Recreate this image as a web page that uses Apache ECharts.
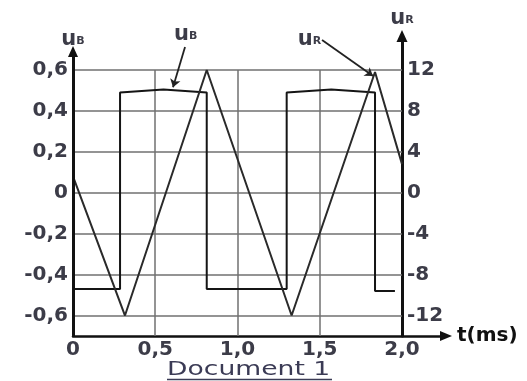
<!DOCTYPE html>
<html><head><meta charset="utf-8">
<script src="https://cdn.jsdelivr.net/npm/echarts@6/dist/echarts.min.js"></script>
<style>html,body{margin:0;padding:0;background:#fff}#c{width:527px;height:381px}</style>
</head><body><div id="c"></div>
<script>
// tick values
const timeTicks = [0, 0.5, 1.0, 1.5, 2.0];
const uBTicks = [-0.6, -0.4, -0.2, 0, 0.2, 0.4, 0.6];
const uRTicks = [-12, -8, -4, 0, 4, 8, 12];
// triangle wave u_R (right axis, V)
const uR_t = [0, 0.316, 0.813, 1.329, 1.836, 2.0];
const uR_v = [1.6, -12, 12, -12, 11.8, 2.8];
// square wave u_B (left axis, V)
const uB_t = [0, 0.286, 0.286, 0.55, 0.813, 0.813, 1.299, 1.299, 1.57, 1.836, 1.836, 1.957];
const uB_v = [-0.47, -0.47, 0.49, 0.505, 0.49, -0.47, -0.47, 0.49, 0.505, 0.49, -0.48, -0.48];
// axis ranges
const tMin = 0, tMax = 2.2675;
const bMin = -0.7, bMax = 0.766;
const rMin = -14, rMax = 15.32;

const FONT = 'DejaVu Sans';
const TXT = '#3c3c48';
const fmtDec = v => v === 0 ? '0' : v.toFixed(1).replace('.', ',');
const near = (arr, v) => arr.find(a => Math.abs(a - v) < 1e-6);

const subRich = {
  u: {fontSize: 21, fontWeight: 'bold', fontFamily: FONT, color: TXT, verticalAlign: 'bottom'},
  s: {fontSize: 11, fontWeight: 'bold', fontFamily: FONT, color: TXT, verticalAlign: 'bottom', padding: [0, 0, 3, 0]}
};

const uBData = uB_t.map((t, i) => [t, uB_v[i]]);
const uRData = uR_t.map((t, i) => [t, uR_v[i]]);

const hGrid = uBTicks.map(v => [{coord: [timeTicks[0], v]}, {coord: [timeTicks[4], v]}]);
const vGrid = timeTicks.slice(1, 4).map(t => [{coord: [t, bMin]}, {coord: [t, uBTicks[6]]}]);

const chart = echarts.init(document.getElementById('c'), null, {renderer: 'canvas'});
chart.setOption({
  animation: false,
  backgroundColor: '#fff',
  grid: {left: 73, right: 81, top: 36, bottom: 45, containLabel: false},
  xAxis: {
    type: 'value', min: tMin, max: tMax, interval: 0.5,
    axisLine: {show: true, onZero: false, symbol: ['none', 'triangle'], symbolSize: [10, 12], lineStyle: {color: '#111', width: 2.5}},
    axisTick: {show: false}, splitLine: {show: false},
    axisLabel: {margin: 4, fontSize: 20, fontWeight: 'bold', fontFamily: FONT, color: TXT,
      formatter: v => { const t = near(timeTicks, v); return t === undefined ? '' : fmtDec(t); }},
    name: 't(ms)', nameLocation: 'end', nameGap: 11,
    nameTextStyle: {fontSize: 20, fontWeight: 'bold', fontFamily: FONT, color: '#111', padding: [0, 0, 5, 0]}
  },
  yAxis: [
    {
      type: 'value', min: bMin, max: bMax, interval: 0.1, position: 'left',
      axisLine: {show: false}, axisTick: {show: false}, splitLine: {show: false},
      axisLabel: {margin: 5, fontSize: 20, fontWeight: 'bold', fontFamily: FONT, color: TXT,
        formatter: v => { const t = near(uBTicks, Math.round(v * 10) / 10); return (t === undefined || Math.abs(v - t) > 1e-6) ? '' : fmtDec(t); }}
    },
    {
      type: 'value', min: rMin, max: rMax, interval: 2, position: 'right', offset: -44,
      axisLine: {show: true, onZero: false, symbol: ['none', 'triangle'], symbolSize: [11, 12], lineStyle: {color: '#111', width: 3}},
      axisTick: {show: false}, splitLine: {show: false},
      axisLabel: {margin: 5, fontSize: 20, fontWeight: 'bold', fontFamily: FONT, color: TXT,
        formatter: v => { const t = near(uRTicks, Math.round(v)); return (t === undefined || Math.abs(v - t) > 1e-6) ? '' : String(t); }},
      name: '{u|u}{s|R}', nameLocation: 'end', nameGap: 7,
      nameTextStyle: {rich: subRich}
    }
  ],
  series: [
    {
      name: 'grid', type: 'line', yAxisIndex: 0, data: [[0, bMin]], symbol: 'none', silent: true,
      lineStyle: {opacity: 0}, z: 1,
      markLine: {
        silent: true, symbol: 'none', z: 1, animation: false,
        label: {show: false},
        lineStyle: {color: '#707070', width: 1.5, type: 'solid'},
        data: hGrid.concat(vGrid)
      }
    },
    {
      name: 'axisB', type: 'line', yAxisIndex: 0, data: [[0, bMin]], symbol: 'none', silent: true,
      lineStyle: {opacity: 0}, z: 6,
      markLine: {
        silent: true, symbol: ['none', 'triangle'], symbolSize: [10, 11], z: 6, animation: false,
        lineStyle: {color: '#111', width: 3, type: 'solid'},
        label: {show: true, position: 'end', distance: 2, formatter: '{u|u}{s|B}', rich: subRich},
        data: [[{coord: [0, bMin]}, {coord: [0, 0.69]}]]
      }
    },
    {
      name: 'uB', type: 'line', yAxisIndex: 0, data: uBData, symbol: 'none', z: 4,
      lineStyle: {color: '#151515', width: 2},
      markLine: {
        silent: true, symbol: ['none', 'arrow'], symbolSize: 8, z: 5, animation: false,
        lineStyle: {color: '#222', width: 1.8, type: 'solid'},
        label: {show: true, position: 'start', distance: 2, formatter: '{u|u}{s|B}', rich: subRich},
        data: [[{coord: [0.681, 0.712]}, {coord: [0.608, 0.515]}]]
      }
    },
    {
      name: 'uR', type: 'line', yAxisIndex: 1, data: uRData, symbol: 'none', z: 4,
      lineStyle: {color: '#2a2a2a', width: 2},
      markLine: {
        silent: true, symbol: ['none', 'arrow'], symbolSize: 8, z: 5, animation: false,
        lineStyle: {color: '#222', width: 1.8, type: 'solid'},
        label: {show: true, position: 'start', distance: 1, formatter: '{u|u}{s|R}', rich: subRich},
        data: [[{coord: [1.514, 14.93]}, {coord: [1.824, 11.4]}]]
      }
    }
  ],
  graphic: [
    {type: 'text', x: 167, y: 361, scaleX: 1.4, style: {text: 'Document 1', font: '19px "DejaVu Sans"', fill: '#3b3b55', textVerticalAlign: 'top'}},
    {type: 'line', shape: {x1: 167, y1: 379.5, x2: 332, y2: 379.5}, style: {stroke: '#3b3b55', lineWidth: 1.5}}
  ]
});
</script></body></html>
